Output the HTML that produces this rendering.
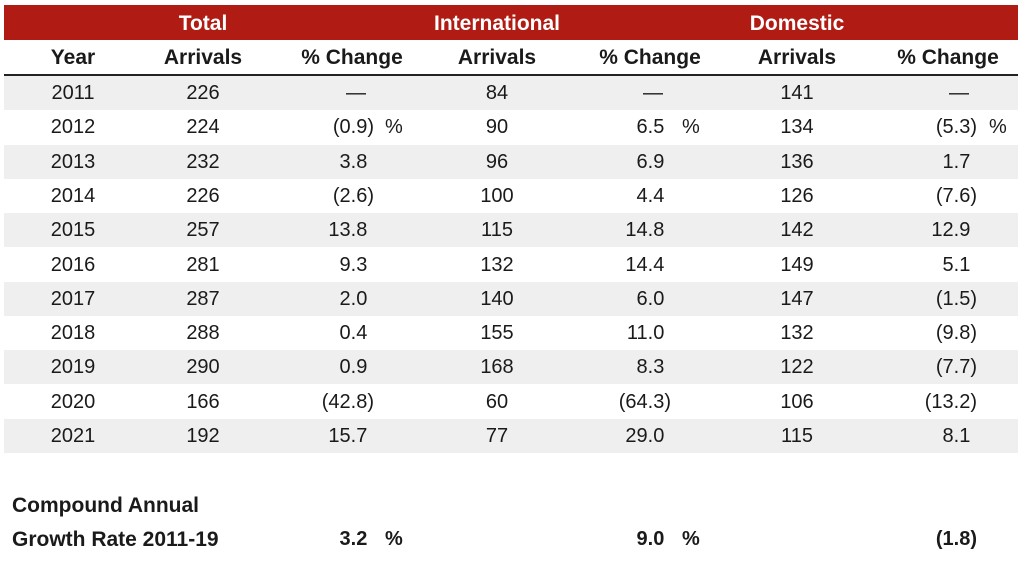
<!DOCTYPE html>
<html><head><meta charset="utf-8"><style>
body{margin:0;width:1024px;height:565px;background:#fff;font-family:"Liberation Sans",sans-serif;font-size:20px;color:#1a1a1a;position:relative;overflow:hidden;white-space:nowrap}
.bar{position:absolute;left:4px;top:5px;width:1014px;height:35px;background:#b01c14}
.h{position:absolute;color:#fff;font-weight:bold;font-size:21px;top:12px;transform:translateX(-50%)}
.sh{position:absolute;font-weight:bold;font-size:21px;top:46px;transform:translateX(-50%)}
.line{position:absolute;left:4px;top:74px;width:1014px;height:2px;background:#222}
.row{position:absolute;left:4px;width:1014px;height:34px}
.g{background:#efefef}
.c{position:absolute;transform:translateX(-50%);top:6px}
.r{position:absolute;top:6px;text-align:right}
.hid{visibility:hidden}
.b{font-weight:bold}
</style></head><body>
<div class="bar"></div>
<div class="h" style="left:203px">Total</div>
<div class="h" style="left:497px">International</div>
<div class="h" style="left:797px">Domestic</div>
<div class="sh" style="left:73px">Year</div>
<div class="sh" style="left:203px">Arrivals</div>
<div class="sh" style="left:352px">% Change</div>
<div class="sh" style="left:497px">Arrivals</div>
<div class="sh" style="left:650px">% Change</div>
<div class="sh" style="left:797px">Arrivals</div>
<div class="sh" style="left:948px">% Change</div>
<div class="line"></div>
<div id="rows"></div>
<script>
var d=[["2011","226","—","84","—","141","—"],["2012","224","(0.9)","90","6.5","134","(5.3)"],["2013","232","3.8","96","6.9","136","1.7"],["2014","226","(2.6)","100","4.4","126","(7.6)"],["2015","257","13.8","115","14.8","142","12.9"],["2016","281","9.3","132","14.4","149","5.1"],["2017","287","2.0","140","6.0","147","(1.5)"],["2018","288","0.4","155","11.0","132","(9.8)"],["2019","290","0.9","168","8.3","122","(7.7)"],["2020","166","(42.8)","60","(64.3)","106","(13.2)"],["2021","192","15.7","77","29.0","115","8.1"]];
function pct(v,right){
 if(v=="—")return '<div class="c" style="left:'+(right-18)+'px">—</div>';
 var t=v[0]=="("?v:v+'<span class="hid">)</span>';
 return '<div class="r" style="right:'+(1014-right)+'px">'+t+'</div>';
}
var h="";
d.forEach(function(r,i){
 var top=76+i*34.3;
 h+='<div class="row'+(i%2==0?' g':'')+'" style="top:'+top+'px">';
 h+='<div class="c" style="left:69px">'+r[0]+'</div>';
 h+='<div class="c" style="left:199px">'+r[1]+'</div>';
 h+=pct(r[2],370);
 h+='<div class="c" style="left:493px">'+r[3]+'</div>';
 h+=pct(r[4],667);
 h+='<div class="c" style="left:793px">'+r[5]+'</div>';
 h+=pct(r[6],973);
 if(i==1){h+='<div class="r" style="left:381px">%</div><div class="r" style="left:678px">%</div><div class="r" style="left:985px">%</div>';}
 h+='</div>';
});
document.getElementById('rows').innerHTML=h;
</script>
<div class="b" style="position:absolute;left:12px;top:494px;font-size:21px">Compound Annual</div>
<div class="b" style="position:absolute;left:12px;top:528px;font-size:21px">Growth Rate 2011-19</div>
<div class="b" style="position:absolute;right:650px;top:528px">3.2<span class="hid">)</span></div>
<div class="b" style="position:absolute;left:385px;top:528px">%</div>
<div class="b" style="position:absolute;right:353px;top:528px">9.0<span class="hid">)</span></div>
<div class="b" style="position:absolute;left:682px;top:528px">%</div>
<div class="b" style="position:absolute;right:47px;top:528px">(1.8)</div>
</body></html>
